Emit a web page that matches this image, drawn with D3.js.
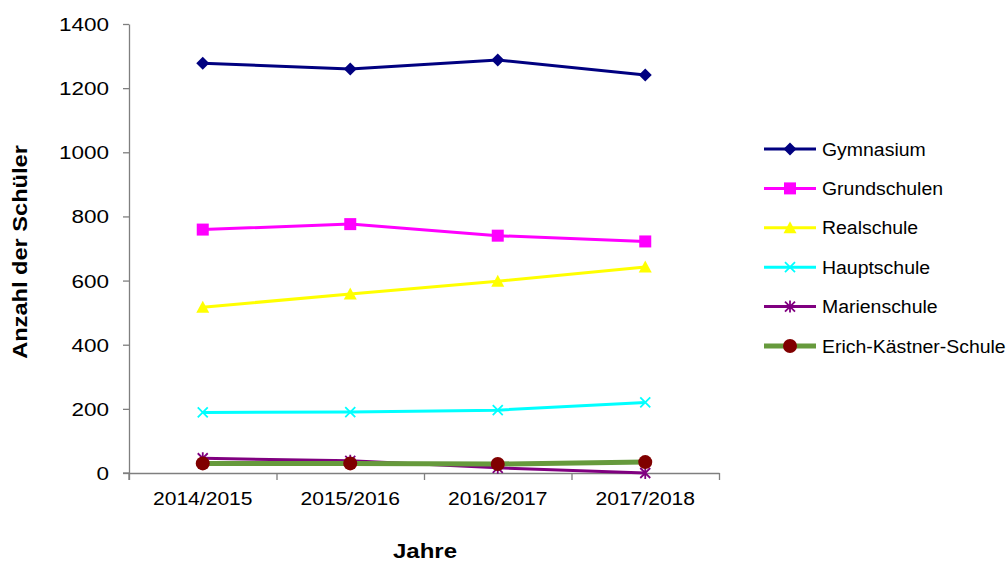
<!DOCTYPE html>
<html>
<head>
<meta charset="utf-8">
<script src="https://cdn.jsdelivr.net/npm/d3@7"></script>
<style>
  body { margin: 0; background: #fff; }
  text { font-family: "Liberation Sans", Arial, sans-serif; fill: #000; }
</style>
</head>
<body>
<script>
// data
var years = ["2014/2015", "2015/2016", "2016/2017", "2017/2018"];
var yTicks = [0, 200, 400, 600, 800, 1000, 1200, 1400];

var gymnasium     = [1278, 1260, 1288, 1241];
var grundschulen  = [759, 776, 740, 722];
var realschule    = [517, 558, 598, 642];
var hauptschule   = [189, 190, 196, 220];
var marienschule  = [46, 38, 16, 0];
var erichKaestner = [30, 30, 28, 34];

var series = [
  { name: "Gymnasium", values: gymnasium, color: "#000080", marker: "diamond", mcolor: "#000080", width: 3 },
  { name: "Grundschulen", values: grundschulen, color: "#ff00ff", marker: "square", mcolor: "#ff00ff", width: 3 },
  { name: "Realschule", values: realschule, color: "#ffff00", marker: "triangle", mcolor: "#ffff00", width: 3 },
  { name: "Hauptschule", values: hauptschule, color: "#00ffff", marker: "x", mcolor: "#00ffff", width: 3 },
  { name: "Marienschule", values: marienschule, color: "#800080", marker: "star", mcolor: "#800080", width: 3 },
  { name: "Erich-Kästner-Schule", values: erichKaestner, color: "#669a3c", marker: "circle", mcolor: "#800000", width: 5 }
];

var width = 1008, height = 562;
var svg = d3.select("body").append("svg")
    .attr("width", width)
    .attr("height", height);

var x = d3.scaleLinear().domain([0, years.length]).range([129, 719]);
var y = d3.scaleLinear().domain([0, 1400]).range([473, 24]);

// stretch text a bit wider, the reference font runs wide
function stretch(sel, k) {
  sel.each(function() {
    var len = this.getComputedTextLength();
    d3.select(this).attr("textLength", len * k).attr("lengthAdjust", "spacingAndGlyphs");
  });
}

// y axis
var yAxis = svg.append("g")
    .attr("transform", "translate(129,0)")
    .call(d3.axisLeft(y).tickValues(yTicks).tickFormat(d3.format("d"))
      .tickSize(6).tickSizeOuter(0).tickPadding(14));
yAxis.selectAll("text").style("font-size", "18px").attr("dy", "0.36em");
stretch(yAxis.selectAll("text"), 1.25);

// x axis
var xAxis = svg.append("g")
    .attr("transform", "translate(0,473)")
    .call(d3.axisBottom(x).tickValues(d3.range(years.length + 1)).tickFormat("").tickSize(7).tickSizeOuter(0));

svg.selectAll("g .domain, g .tick line").attr("stroke", "#7f7f7f").attr("stroke-width", 1.3);
// y axis reaches down to the bottom tick row
svg.append("line").attr("x1", 129).attr("x2", 129).attr("y1", y(0)).attr("y2", y(0) + 7)
    .attr("stroke", "#7f7f7f").attr("stroke-width", 1.3);
svg.append("line").attr("x1", 123).attr("x2", 129).attr("y1", y(0)).attr("y2", y(0))
    .attr("stroke", "#7f7f7f").attr("stroke-width", 1.3);

var catLabels = svg.append("g").selectAll("text")
    .data(years)
    .enter().append("text")
    .attr("x", (d, i) => x(i + 0.5))
    .attr("y", 505)
    .attr("text-anchor", "middle")
    .style("font-size", "18px")
    .text(d => d);
stretch(catLabels, 1.17);

// axis titles
var xt = svg.append("text")
    .attr("x", 425).attr("y", 558)
    .attr("text-anchor", "middle")
    .style("font-size", "20px").style("font-weight", "bold")
    .text("Jahre");
stretch(xt, 1.2);

var yt = svg.append("text")
    .attr("transform", "translate(27,252) rotate(-90)")
    .attr("text-anchor", "middle")
    .style("font-size", "20px").style("font-weight", "bold")
    .text("Anzahl der Schüler");
stretch(yt, 1.18);

function drawMarker(g, type, color) {
  if (type === "diamond") {
    g.append("path").attr("d", "M0,-6.5L6.5,0L0,6.5L-6.5,0Z").attr("fill", color);
  } else if (type === "square") {
    g.append("rect").attr("x", -6).attr("y", -6).attr("width", 12).attr("height", 12).attr("fill", color);
  } else if (type === "triangle") {
    g.append("path").attr("d", "M0,-6.5L6.5,5.5L-6.5,5.5Z").attr("fill", color);
  } else if (type === "x") {
    g.append("path").attr("d", "M-5,-5L5,5M-5,5L5,-5").attr("stroke", color).attr("stroke-width", 1.8);
  } else if (type === "star") {
    g.append("path").attr("d", "M-5,-5L5,5M-5,5L5,-5M0,-6L0,6").attr("stroke", color).attr("stroke-width", 1.8);
  } else if (type === "circle") {
    g.append("circle").attr("r", 7).attr("fill", color);
  }
}

var line = d3.line()
    .x((d, i) => x(i + 0.5))
    .y(d => y(d));

var plot = svg.append("g");
series.forEach(function(s) {
  plot.append("path")
      .datum(s.values)
      .attr("fill", "none")
      .attr("stroke", s.color)
      .attr("stroke-width", s.width)
      .attr("d", line);
  s.values.forEach(function(v, i) {
    var g = plot.append("g").attr("transform", "translate(" + x(i + 0.5) + "," + y(v) + ")");
    drawMarker(g, s.marker, s.mcolor);
  });
});

// legend
var legend = svg.append("g").selectAll("g")
    .data(series)
    .enter().append("g")
    .attr("transform", (d, i) => "translate(764," + (149 + i * 39.4) + ")");
legend.append("line")
    .attr("x1", 0).attr("x2", 52)
    .attr("stroke", d => d.color)
    .attr("stroke-width", d => d.width);
legend.each(function(d) {
  drawMarker(d3.select(this).append("g").attr("transform", "translate(26,0)"), d.marker, d.mcolor);
});
var lt = legend.append("text")
    .attr("x", 58).attr("y", 6.5)
    .style("font-size", "18px")
    .text(d => d.name);
stretch(lt, 1.08);
</script>
</body>
</html>
